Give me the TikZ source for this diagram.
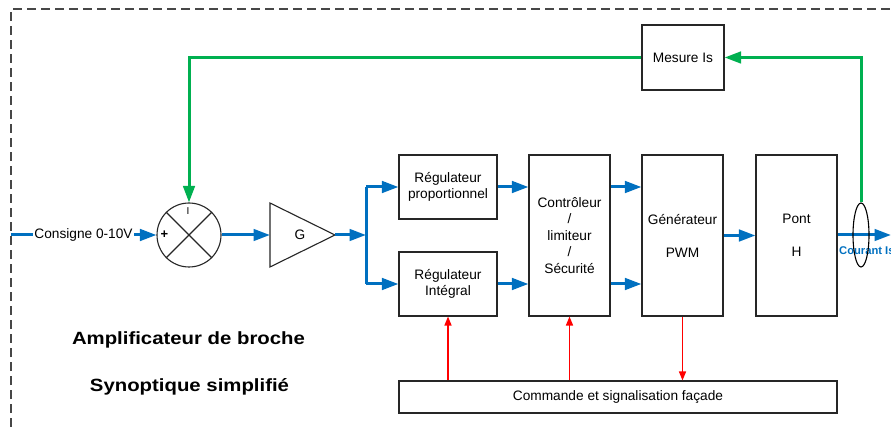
\documentclass[tikz,border=0pt]{standalone}
\usepackage{fontspec}
\setmainfont{Liberation Sans}
\usetikzlibrary{arrows.meta,shapes.geometric}
\definecolor{cblue}{HTML}{0070C0}
\definecolor{cgreen}{HTML}{00B050}
\definecolor{cred}{HTML}{FF0000}
\definecolor{cline}{HTML}{262626}
\tikzset{
  boxnode/.style={draw=cline, line width=1.1pt, inner sep=0pt, align=center,
    font=\fontsize{13.7}{16.5}\selectfont},
  bluearrow/.style={draw=cblue, line width=3pt, -{Triangle[length=16.5pt,width=11.5pt]}},
  blueline/.style={draw=cblue, line width=3pt},
  greenarrow/.style={draw=cgreen, line width=3pt, -{Triangle[length=16.5pt,width=11.5pt]}},
  redarrow/.style={draw=cred, line width=1.4pt, -{Triangle[length=9pt,width=7pt]}},
  frameline/.style={draw=cline!85!white, line width=1.3pt, dash pattern=on 9pt off 5pt},
  bigtitle/.style={font=\fontsize{17.7}{20}\selectfont\bfseries},
}
\begin{document}
\begin{tikzpicture}[x=1pt,y=-1pt]
\useasboundingbox (0,0) rectangle (891,427);
\fill[white] (0,0) rectangle (891,427);
% frame
\draw[frameline] (11,427) -- (11,9) -- (895,9);

% blocks
\node[circle, draw=cline, line width=1.1pt, minimum size=64pt, inner sep=0pt] (sum) at (189,235) {};
\draw[cline, line width=1.1pt] (sum.north west) -- (sum.south east) (sum.north east) -- (sum.south west);
\node[font=\fontsize{13}{13}\selectfont\bfseries] (plus) at (164.5,235) {+};
\node[font=\fontsize{10}{10}\selectfont] (minus) at (188,211) {I};

\coordinate (gw) at (270,235);
\coordinate (ge) at (335,235);
\draw[cline, line width=1.1pt] (270,203) -- (ge) -- (270,267) -- cycle;
\node[font=\fontsize{13.7}{16.5}\selectfont] (g) at (300,235) {G};

\node[boxnode, minimum width=98pt, minimum height=64pt] (prop) at (448,187) {Régulateur\\proportionnel};
\node[boxnode, minimum width=98pt, minimum height=64pt] (int) at (448,284) {Régulateur\\Intégral};
\node[boxnode, minimum width=81pt, minimum height=161pt] (ctrl) at (569.5,235.5) {Contrôleur\\/\\limiteur\\/\\Sécurité};
\node[boxnode, minimum width=81pt, minimum height=161pt] (pwm) at (682.5,235.5) {Générateur\\[16.5pt]PWM};
\node[boxnode, minimum width=81pt, minimum height=161pt] (pont) at (796.5,235.5) {Pont\\[16.5pt]H};
\node[boxnode, minimum width=82pt, minimum height=65pt] (mes) at (683,57.5) {Mesure Is};
\node[boxnode, minimum width=438pt, minimum height=32pt] (cmd) at (618,397) {Commande et signalisation façade};

% input
\coordinate (in) at (11,235);
\draw[bluearrow] (in) -- (sum.west);
\node[fill=white, inner sep=1pt, font=\fontsize{13.7}{16.5}\selectfont] (cons) at (83.5,235) {Consigne 0-10V};

% forward path
\draw[bluearrow] (sum.east) -- (gw);
\coordinate (split) at (366,235);
\draw[bluearrow] (ge) -- (split);
\draw[blueline] (split |- prop.west) -- (split |- int.west);
\draw[bluearrow] (split |- prop.west) -- (prop.west);
\draw[bluearrow] (split |- int.west) -- (int.west);
\draw[bluearrow] (prop.east) -- (ctrl.west |- prop.east);
\draw[bluearrow] (int.east) -- (ctrl.west |- int.east);
\draw[bluearrow] (ctrl.east |- prop.east) -- (pwm.west |- prop.east);
\draw[bluearrow] (ctrl.east |- int.east) -- (pwm.west |- int.east);
\draw[bluearrow] (pwm.east |- pont.west) -- (pont.west);
\coordinate (out) at (891,235);
\draw[bluearrow] (pont.east |- out) -- (out);
\node[anchor=west, text=cblue, font=\fontsize{11.2}{12}\selectfont\bfseries, inner sep=0pt] (courant) at (839,251) {Courant Is};

% current sensor
\node[ellipse, draw=black, line width=1.1pt, minimum width=16pt, minimum height=64pt, inner sep=0pt] (ell) at (861,235) {};

% feedback
\draw[greenarrow] (ell.north) |- (mes.east);
\draw[greenarrow] (mes.west) -| (sum.north);

% command arrows
\draw[redarrow] (cmd.north -| int.south) -- (int.south);
\draw[redarrow] (cmd.north -| ctrl.south) -- (ctrl.south);
\draw[redarrow] (pwm.south) -- (cmd.north -| pwm.south);

% titles
\node[bigtitle] (t1) at (188.5,340) {\scalebox{1.15}[1]{Amplificateur de broche}};
\node[bigtitle] (t2) at (189.5,387) {\scalebox{1.15}[1]{Synoptique simplifié}};
\end{tikzpicture}
\end{document}
